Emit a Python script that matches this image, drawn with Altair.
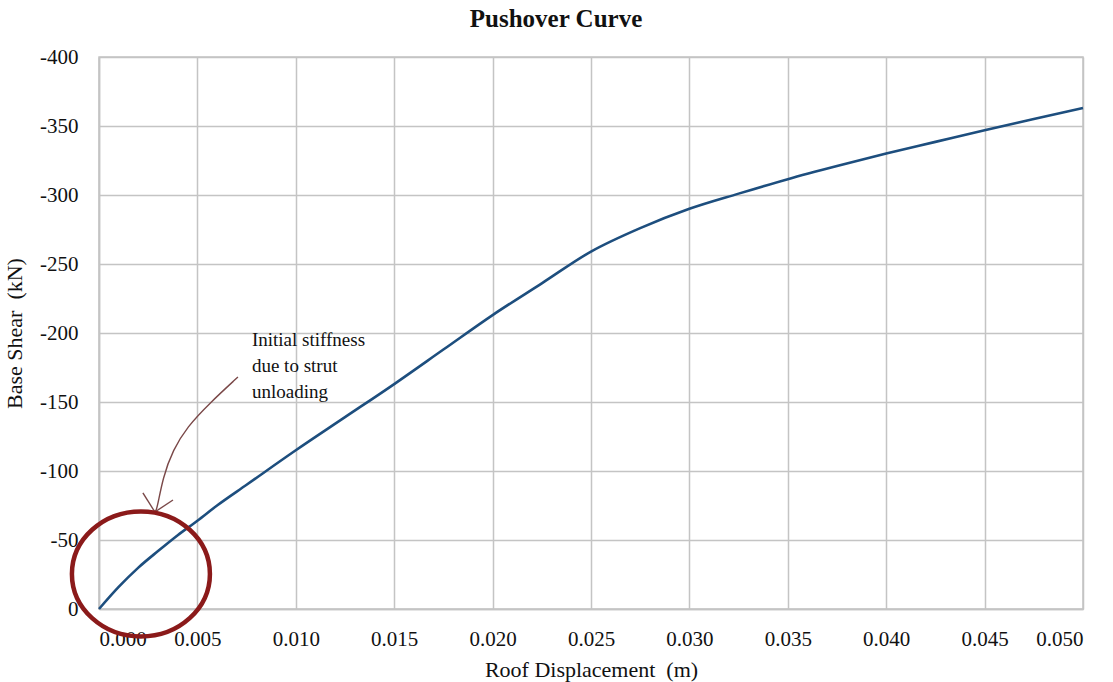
import altair as alt
import pandas as pd

# Pushover curve: roof displacement (m) vs base shear (kN)
disp = [0.000, 0.001, 0.002, 0.003, 0.004, 0.005, 0.006, 0.0075, 0.010, 0.0125,
        0.015, 0.0175, 0.020, 0.0225, 0.025, 0.0275, 0.030, 0.0325, 0.035,
        0.0375, 0.040, 0.0425, 0.045, 0.0475, 0.050]
shear = [0, -16, -30, -42, -53.5, -64, -75, -90, -115, -139,
         -163, -188, -213, -236, -259, -276, -290, -301, -311.5,
         -321, -330, -338.5, -347, -355, -363]

x_ticks = [0.000, 0.005, 0.010, 0.015, 0.020, 0.025, 0.030, 0.035, 0.040, 0.045, 0.050]
y_ticks = [0, -50, -100, -150, -200, -250, -300, -350, -400]

# Annotation: circle around the initial branch, curved arrow and note
circle_x = [0.00213]
circle_y = [-25.4]
arrow_x = [0.00706, 0.00563, 0.00447, 0.00376, 0.00325, 0.00294, 0.00284]
arrow_y = [-168.1, -149.3, -131.9, -115.2, -95.7, -71.7, -70.3]
head_x = [0.00223, 0.00376]
head_y = [-84.1, -79.0]
note_lines = ["Initial stiffness", "due to strut", "unloading"]
note_x = [0.00777, 0.00777, 0.00777]
note_y = [-194.9, -176.1, -157.2]

SERIF = "Liberation Serif"

curve = pd.DataFrame({"disp": disp, "shear": shear})
circ = pd.DataFrame({"disp": circle_x, "shear": circle_y})
arrow = pd.DataFrame({"disp": arrow_x, "shear": arrow_y, "k": list(range(len(arrow_x)))})
head = pd.DataFrame({"disp": [arrow_x[-1]] * len(head_x), "shear": [arrow_y[-1]] * len(head_y),
                     "disp2": head_x, "shear2": head_y})
note = pd.DataFrame({"disp": note_x, "shear": note_y, "label": note_lines})

xscale = alt.Scale(domain=[0, 0.05], nice=False, zero=False)
yscale = alt.Scale(domain=[-400, 0], reverse=True, nice=False)

x_enc = alt.X("disp:Q", scale=xscale,
              axis=alt.Axis(values=x_ticks, format=".3f",
                            title="Roof Displacement\u00a0 (m)",
                            labelPadding=19, titlePadding=10))
y_enc = alt.Y("shear:Q", scale=yscale,
              axis=alt.Axis(values=y_ticks, labelExpr="'' + datum.value",
                            title="Base Shear\u00a0 (kN)", labelPadding=21, titlePadding=13))

line = alt.Chart(curve).mark_line(color="#1d4e7e", strokeWidth=2.6,
                                  interpolate="monotone").encode(x=x_enc, y=y_enc)

ellipse_path = ("M 1 0 C 1 0.5004 0.5523 0.906 0 0.906 C -0.5523 0.906 -1 0.5004 -1 0 "
                "C -1 -0.5004 -0.5523 -0.906 0 -0.906 C 0.5523 -0.906 1 -0.5004 1 0 Z")
ring = alt.Chart(circ).mark_point(shape=ellipse_path, size=19044, filled=False,
                                  stroke="#8b1a1a", strokeWidth=4.5, opacity=1).encode(
    x=alt.X("disp:Q", scale=xscale), y=alt.Y("shear:Q", scale=yscale))

arrow_line = alt.Chart(arrow).mark_line(color="#7a4848", strokeWidth=1.4,
                                        interpolate="basis").encode(
    x=alt.X("disp:Q", scale=xscale), y=alt.Y("shear:Q", scale=yscale), order="k:Q")

arrow_head = alt.Chart(head).mark_rule(color="#7a4848", strokeWidth=1.4).encode(
    x=alt.X("disp:Q", scale=xscale), y=alt.Y("shear:Q", scale=yscale),
    x2="disp2:Q", y2="shear2:Q")

text = alt.Chart(note).mark_text(align="left", baseline="middle", font=SERIF,
                                 fontSize=19, color="#111111").encode(
    x=alt.X("disp:Q", scale=xscale), y=alt.Y("shear:Q", scale=yscale), text="label:N")

chart = alt.layer(line, arrow_line, arrow_head, ring, text).properties(
    width=984, height=552,
    background="white",
    title=alt.TitleParams("Pushover Curve", font=SERIF, fontSize=25, fontWeight="bold",
                          color="#111111", anchor="middle", dx=-35, dy=6, offset=0,
                          baseline="alphabetic"),
    autosize=alt.AutoSizeParams(type="none"),
    padding={"left": 99, "top": 57, "right": 30, "bottom": 73},
).configure_view(stroke="#c4c4c4", strokeWidth=1.5).configure_axis(
    gridColor="#c4c4c4", gridWidth=1.5, domainColor="#c4c4c4", domainWidth=1.5,
    ticks=False, tickSize=0, labelFont=SERIF, labelFontSize=21, labelColor="#111111",
    titleFont=SERIF, titleFontSize=22, titleFontWeight="normal", titleColor="#111111",
)

chart.save("out.html", embed_options={"renderer": "svg", "actions": False})
